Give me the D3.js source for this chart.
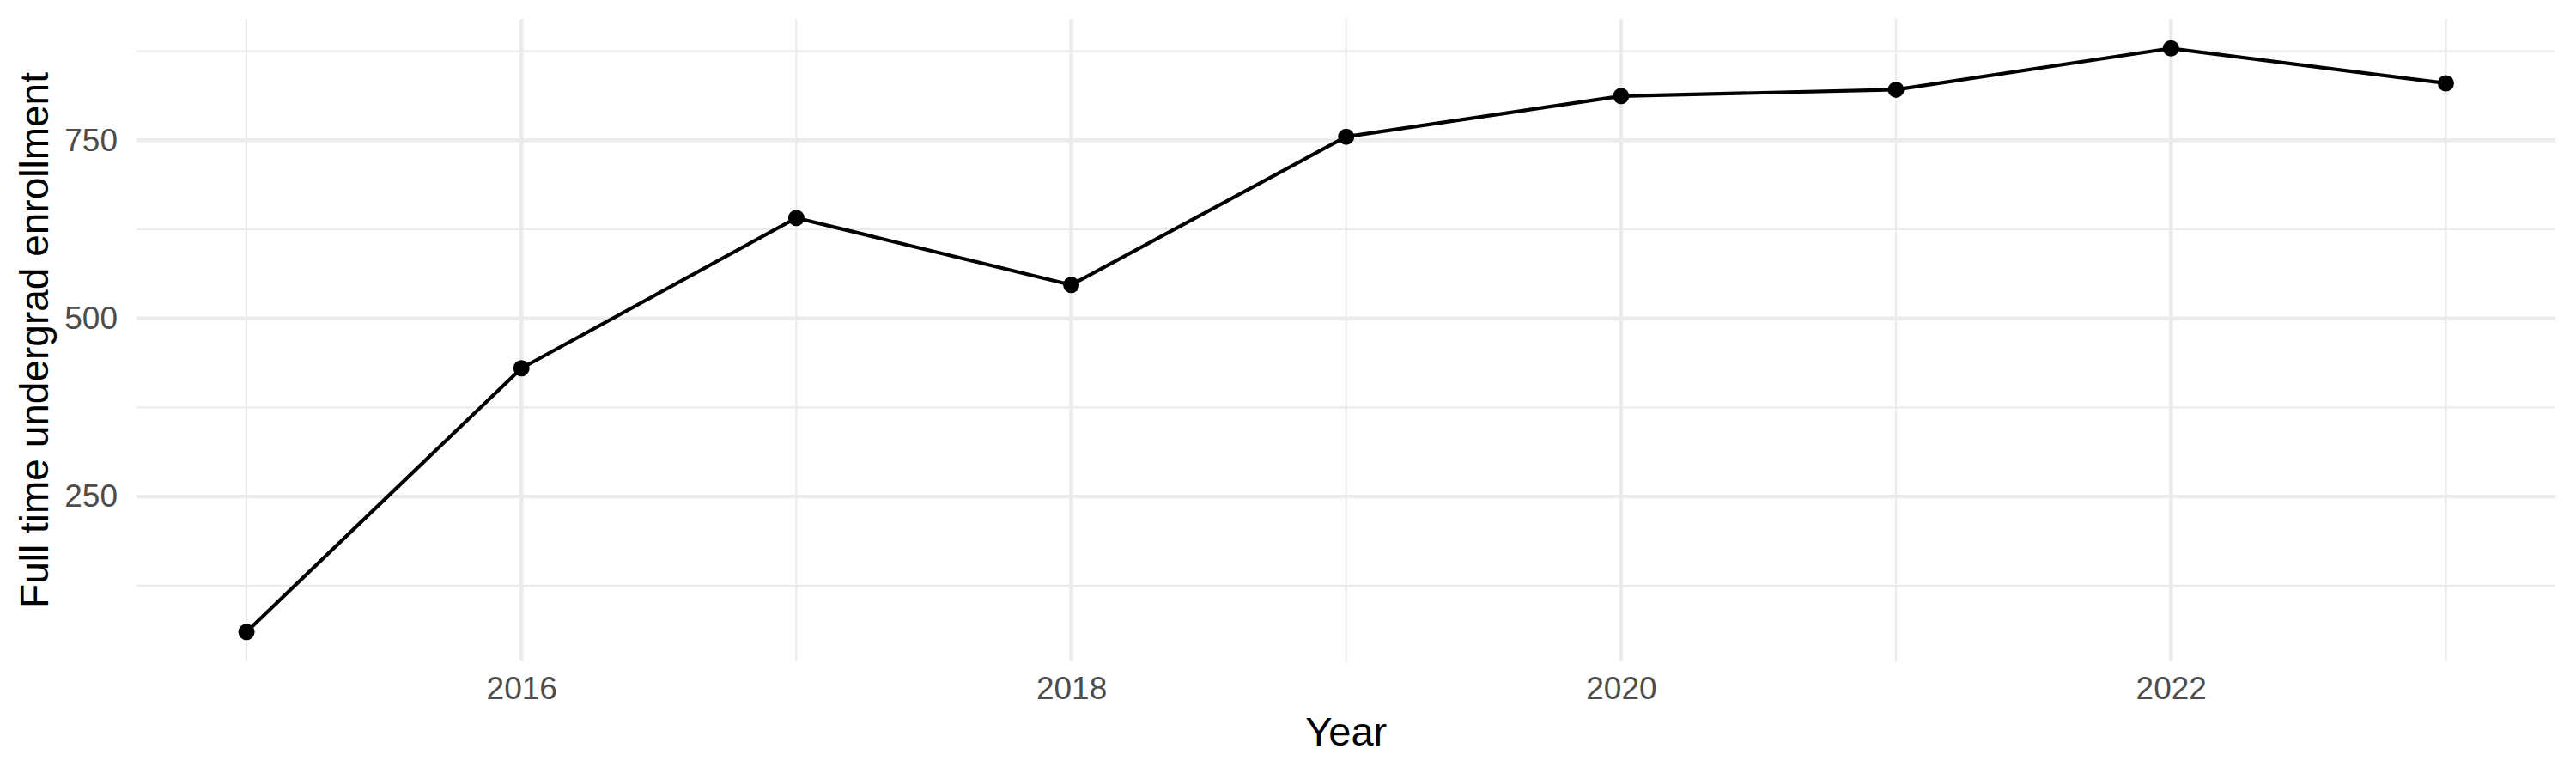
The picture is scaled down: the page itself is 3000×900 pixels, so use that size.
<!DOCTYPE html>
<html>
<head>
<meta charset="utf-8">
<script src="https://cdn.jsdelivr.net/npm/d3@7"></script>
<style>
  body { margin: 0; background: #fff; }
  text { font-family: "Liberation Sans", Arial, sans-serif; }
</style>
</head>
<body>
<div id="chart"></div>
<script>
// Full time undergrad enrollment by year

var years = [2015, 2016, 2017, 2018, 2019, 2020, 2021, 2022, 2023];
var enrollment = [60, 430, 641, 547, 755, 812, 821, 879, 830];

var xMajor = [2016, 2018, 2020, 2022],
  xMinor = [2015, 2017, 2019, 2021, 2023];
var yMajor = [250, 500, 750],
  yMinor = [125, 375, 625, 875];

var w = 3000, h = 900;
var panelL = 159, panelR = 2976.5, panelT = 22.3, panelB = 769.7;

var data = years.map(function(d, i) { return { year: d, value: enrollment[i] }; });

// ggplot style 5% expansion on both sides
function expand(ext) {
  var pad = (ext[1] - ext[0]) * 0.05;
  return [ext[0] - pad, ext[1] + pad];
}

var x = d3.scaleLinear()
  .domain(expand(d3.extent(years)))
  .range([panelL, panelR]);

var y = d3.scaleLinear()
  .domain(expand(d3.extent(enrollment)))
  .range([panelB, panelT]);

var svg = d3.select("#chart").append("svg")
  .attr("width", w)
  .attr("height", h)
  .style("background", "#fff");

var grid = svg.append("g").attr("class", "grid");

grid.selectAll(".yminor")
  .data(yMinor)
.enter().append("line")
  .attr("x1", panelL).attr("x2", panelR)
  .attr("y1", y).attr("y2", y)
  .style("stroke", "#ebebeb")
  .style("stroke-width", 2.2);

grid.selectAll(".xminor")
  .data(xMinor)
.enter().append("line")
  .attr("x1", x).attr("x2", x)
  .attr("y1", panelT).attr("y2", panelB)
  .style("stroke", "#ebebeb")
  .style("stroke-width", 2.2);

grid.selectAll(".ymajor")
  .data(yMajor)
.enter().append("line")
  .attr("x1", panelL).attr("x2", panelR)
  .attr("y1", y).attr("y2", y)
  .style("stroke", "#ebebeb")
  .style("stroke-width", 4.4);

grid.selectAll(".xmajor")
  .data(xMajor)
.enter().append("line")
  .attr("x1", x).attr("x2", x)
  .attr("y1", panelT).attr("y2", panelB)
  .style("stroke", "#ebebeb")
  .style("stroke-width", 4.4);

// axes: labels only
var xAxis = svg.append("g")
  .attr("transform", "translate(0," + panelB + ")")
  .call(d3.axisBottom(x).tickValues(xMajor).tickFormat(d3.format("d"))
    .tickSize(0).tickPadding(18));

var yAxis = svg.append("g")
  .attr("transform", "translate(" + panelL + ",0)")
  .call(d3.axisLeft(y).tickValues(yMajor).tickFormat(d3.format("d"))
    .tickSize(0).tickPadding(22));

[xAxis, yAxis].forEach(function(a) {
  a.select(".domain").remove();
  a.selectAll("text")
    .style("font-size", "37px")
    .style("font-family", "'Liberation Sans', Arial, sans-serif")
    .style("fill", "#4d4d4d");
});

var line = d3.line()
  .x(function(d) { return x(d.year); })
  .y(function(d) { return y(d.value); });

svg.append("path")
  .datum(data)
  .attr("d", line)
  .style("fill", "none")
  .style("stroke", "#000")
  .style("stroke-width", 4.2)
  .style("stroke-linejoin", "round");

svg.selectAll(".pt")
  .data(data)
.enter().append("circle")
  .attr("class", "pt")
  .attr("cx", function(d) { return x(d.year); })
  .attr("cy", function(d) { return y(d.value); })
  .attr("r", 9.5)
  .style("fill", "#000");

svg.append("text")
  .attr("x", (panelL + panelR) / 2)
  .attr("y", 868)
  .attr("text-anchor", "middle")
  .style("font-size", "47px")
  .style("fill", "#000")
  .text("Year");

svg.append("text")
  .attr("transform", "translate(56," + (panelT + panelB) / 2 + ") rotate(-90)")
  .attr("text-anchor", "middle")
  .style("font-size", "46px")
  .style("fill", "#000")
  .text("Full time undergrad enrollment");
</script>
</body>
</html>
